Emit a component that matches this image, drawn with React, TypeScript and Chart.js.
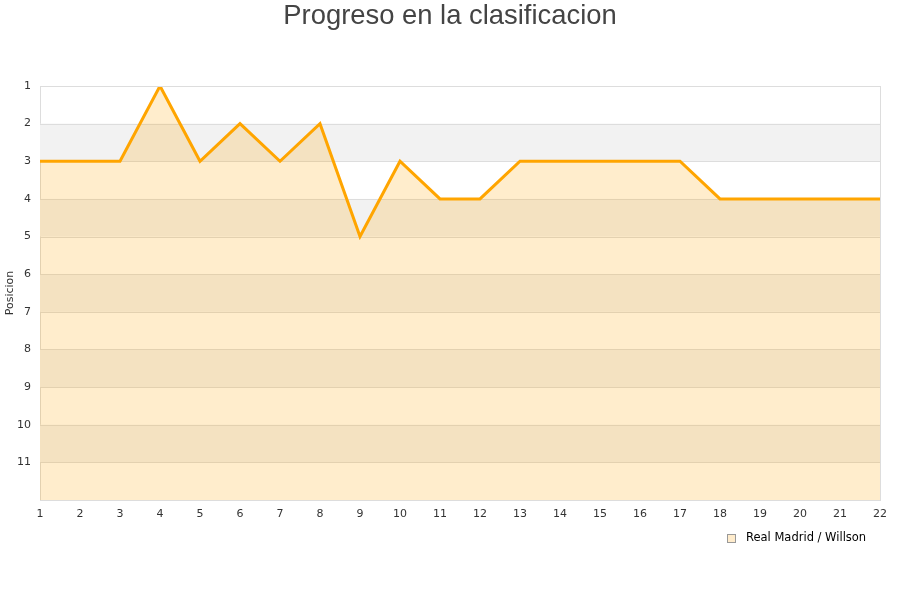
import React, { useEffect, useRef } from "react";
import { Chart, registerables } from "chart.js";

Chart.register(...registerables);

const rounds = ["1","2","3","4","5","6","7","8","9","10","11","12","13","14","15","16","17","18","19","20","21","22"];
const positions = [3,3,3,1,3,2,3,2,5,3,4,4,3,3,3,3,3,4,4,4,4,4];
const seriesName = "Real Madrid / Willson";
const chartTitle = "Progreso en la clasificacion";
const yAxisTitle = "Posicion";
const yTickValues = [1,2,3,4,5,6,7,8,9,10,11];
const bandStarts = [2,4,6,8,10];

const bandsPlugin = {
  id: "bands",
  beforeDatasetsDraw(chart: any) {
    const { ctx, chartArea, scales } = chart;
    const y = scales.y;
    ctx.save();
    ctx.fillStyle = "#f2f2f2";
    bandStarts.forEach((b) => {
      const y1 = y.getPixelForValue(b);
      const y2 = y.getPixelForValue(b + 1);
      ctx.fillRect(chartArea.left, Math.min(y1, y2), chartArea.right - chartArea.left, Math.abs(y2 - y1));
    });
    ctx.strokeStyle = "#dddddd";
    ctx.lineWidth = 1;
    for (let v = 1; v <= 12; v++) {
      const py = Math.round(y.getPixelForValue(v)) + 0.5;
      ctx.beginPath();
      ctx.moveTo(chartArea.left, py);
      ctx.lineTo(chartArea.right, py);
      ctx.stroke();
    }
    ctx.restore();
  },
  afterDatasetsDraw(chart: any) {
    const { ctx, chartArea } = chart;
    ctx.save();
    ctx.strokeStyle = "#dddddd";
    ctx.lineWidth = 1;
    ctx.beginPath();
    ctx.moveTo(chartArea.right + 0.5, chartArea.top);
    ctx.lineTo(chartArea.right + 0.5, chartArea.bottom);
    ctx.moveTo(chartArea.left, chartArea.top + 0.5);
    ctx.lineTo(chartArea.right, chartArea.top + 0.5);
    ctx.stroke();
    ctx.restore();
  },
  afterDraw(chart: any) {
    const { ctx } = chart;
    ctx.save();
    ctx.fillStyle = "#444444";
    ctx.font = "27.4px 'Liberation Sans', Arial, sans-serif";
    ctx.textAlign = "center";
    ctx.textBaseline = "middle";
    ctx.fillText(chartTitle, 450, 16);
    const bx = 727.5, by = 534.5;
    ctx.fillStyle = "#ffeccc";
    ctx.fillRect(bx, by, 8, 8);
    ctx.strokeStyle = "#999999";
    ctx.lineWidth = 1;
    ctx.strokeRect(bx, by, 8, 8);
    ctx.fillStyle = "#000000";
    ctx.font = "11.5px 'DejaVu Sans', sans-serif";
    ctx.textAlign = "left";
    ctx.textBaseline = "middle";
    ctx.fillText(seriesName, 746, 538.5);
    ctx.restore();
  },
};

export default function App() {
  const ref = useRef<HTMLCanvasElement | null>(null);
  useEffect(() => {
    document.body.style.margin = "0";
    if (!ref.current) return;
    const chart = new Chart(ref.current, {
      type: "line",
      data: {
        labels: rounds,
        datasets: [
          {
            label: seriesName,
            data: positions,
            borderColor: "#ffa500",
            backgroundColor: "rgba(255,165,0,0.2)",
            borderWidth: 3,
            pointRadius: 0,
            tension: 0,
            fill: { value: 12 },
          },
        ],
      },
      options: {
        animation: false,
        responsive: false,
        maintainAspectRatio: false,
        layout: { padding: { top: 86, right: 20, left: 0, bottom: 0 } },
        plugins: {
          legend: { display: false },
          title: { display: false },
          tooltip: { enabled: false },
        },
        scales: {
          x: {
            offset: false,
            grid: { display: false, drawTicks: false },
            border: { display: true, color: "#dddddd", width: 1 },
            ticks: {
              color: "#333333",
              font: { family: "'DejaVu Sans', sans-serif", size: 11 },
              padding: 8,
              maxRotation: 0,
              autoSkip: false,
            },
            afterFit: (s: any) => { s.height = 100; },
          },
          y: {
            reverse: true,
            min: 1,
            max: 12,
            afterBuildTicks: (s: any) => { s.ticks = yTickValues.map((v) => ({ value: v })); },
            grid: { display: false, drawTicks: false },
            border: { display: true, color: "#dddddd", width: 1 },
            ticks: {
              color: "#333333",
              font: { family: "'DejaVu Sans', sans-serif", size: 11 },
              padding: 9,
            },
            title: {
              display: true,
              text: yAxisTitle,
              color: "#333333",
              font: { family: "'DejaVu Sans', sans-serif", size: 11 },
              padding: { top: 4, bottom: 0 },
            },
            afterFit: (s: any) => { s.width = 40; },
          },
        },
      },
      plugins: [bandsPlugin],
    });
    return () => chart.destroy();
  }, []);
  return <canvas ref={ref} width={900} height={600} style={{ display: "block" }} />;
}
